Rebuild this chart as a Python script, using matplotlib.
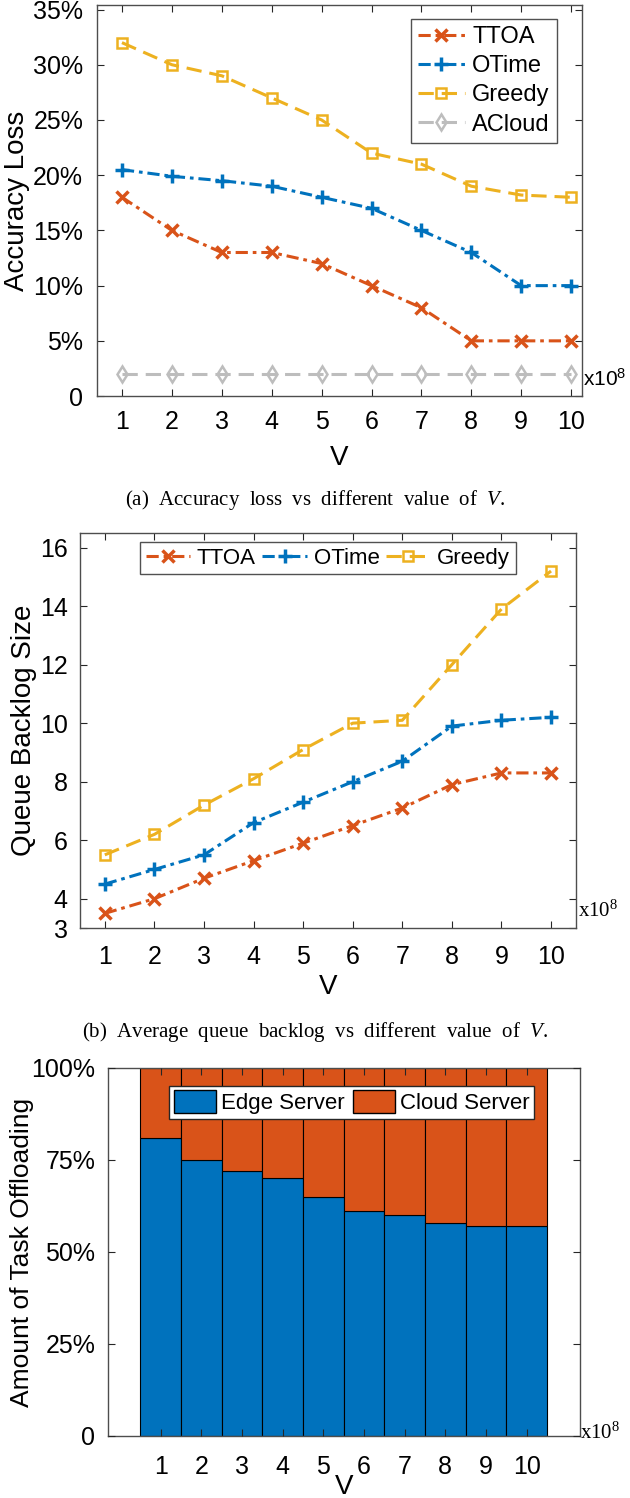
import numpy as np
import matplotlib
matplotlib.use('Agg')
import matplotlib.pyplot as plt
from matplotlib.patches import Patch

plt.rcParams['font.family'] = ['Liberation Sans', 'DejaVu Sans']
plt.rcParams['mathtext.fontset'] = 'custom'
plt.rcParams['mathtext.rm'] = 'Liberation Serif'
plt.rcParams['mathtext.it'] = 'Liberation Serif:italic'

V = [1, 2, 3, 4, 5, 6, 7, 8, 9, 10]

# (a) accuracy loss, in percent
acc_ttoa = [18, 15, 13, 13, 12, 10, 8, 5, 5, 5]
acc_otime = [20.5, 19.9, 19.5, 19, 18, 17, 15, 13, 10, 10]
acc_greedy = [32, 30, 29, 27, 25, 22, 21, 19, 18.2, 18]
acc_acloud = [2, 2, 2, 2, 2, 2, 2, 2, 2, 2]

# (b) queue backlog size
q_ttoa = [3.5, 4.0, 4.7, 5.3, 5.9, 6.5, 7.1, 7.9, 8.3, 8.3]
q_otime = [4.5, 5.0, 5.5, 6.6, 7.3, 8.0, 8.7, 9.9, 10.1, 10.2]
q_greedy = [5.5, 6.2, 7.2, 8.1, 9.1, 10.0, 10.1, 12.0, 13.9, 15.2]

# (c) share of tasks offloaded, in percent
edge = [81, 75, 72, 70, 65, 61, 60, 58, 57, 57]
cloud = [100 - e for e in edge]

c_red = '#D95319'
c_blue = '#0072BD'
c_yel = '#EDB120'
c_gray = '#BDBDBD'
frame = '#262626'

dashdot = (4, 1.6, 1.2, 1.6)
dashed = (5, 2.6)


def style(ax, pad=9):
    ax.tick_params(direction='in', top=True, right=True, length=5,
                   width=0.8, color=frame, labelsize=18, pad=pad)
    for s in ax.spines.values():
        s.set_color('#4d4d4d')
        s.set_linewidth(1.0)


fig = plt.figure(figsize=(6.3, 14.98), dpi=100)

# ---------- (a)
ax1 = fig.add_axes([0.154, 0.7356, 0.770, 0.2610])
ax1.plot(V, acc_ttoa, color=c_red, lw=2.2, dashes=dashdot, marker='x',
         ms=9, mew=2.5, label='TTOA')
ax1.plot(V, acc_otime, color=c_blue, lw=2.2, dashes=dashdot, marker='+',
         ms=10, mew=2.5, label='OTime')
ax1.plot(V, acc_greedy, color=c_yel, lw=2.2, dashes=dashed, marker='s',
         ms=7, mew=1.8, mfc='none', label='Greedy')
ax1.plot(V, acc_acloud, color=c_gray, lw=2.2, dashes=dashed, marker='d',
         ms=8, mew=1.8, mfc='none', label='ACloud')
ax1.set_xlim(0.5, 10.22)
ax1.set_ylim(0, 35.4)
ax1.set_xticks(V)
ax1.set_yticks(range(0, 36, 5))
ax1.set_yticklabels(['0'] + [f'{v}%' for v in range(5, 36, 5)])
style(ax1, pad=10)
ax1.set_xlabel('V', fontsize=20, labelpad=8)
ax1.set_ylabel('Accuracy Loss', fontsize=20, labelpad=2)
ax1.legend(loc='upper right', bbox_to_anchor=(0.948, 0.964), fontsize=17,
           frameon=True, fancybox=False, edgecolor=frame, handlelength=2.0,
           handletextpad=0.3, borderpad=0.3, labelspacing=0.3,
           borderaxespad=0)
ax1.text(1.002, 0.015, 'x10$\\mathregular{^8}$', transform=ax1.transAxes,
         fontsize=15, ha='left', va='bottom')
fig.text(0.5, 1 - 500 / 1498,
         r'(a)  Accuracy  loss  vs  different  value  of  $V$.',
         family='Liberation Serif', fontsize=15, ha='center', va='center')

# ---------- (b)
ax2 = fig.add_axes([0.127, 0.3805, 0.787, 0.2637])
ax2.plot(V, q_ttoa, color=c_red, lw=2.2, dashes=dashdot, marker='x',
         ms=9, mew=2.5, label='TTOA')
ax2.plot(V, q_otime, color=c_blue, lw=2.2, dashes=dashdot, marker='+',
         ms=10, mew=2.5, label='OTime')
ax2.plot(V, q_greedy, color=c_yel, lw=2.2, dashes=dashed, marker='s',
         ms=7, mew=1.8, mfc='none', label='Greedy')
ax2.set_xlim(0.5, 10.5)
ax2.set_ylim(3, 16.5)
ax2.set_xticks(V)
ax2.set_yticks([3, 4, 6, 8, 10, 12, 14, 16])
style(ax2, pad=12)
ax2.tick_params(axis='y', pad=9)
ax2.set_xlabel('V', fontsize=20, labelpad=4)
ax2.set_ylabel('Queue Backlog Size', fontsize=20, labelpad=2)
ax2.legend(loc='upper center', bbox_to_anchor=(0.5, 0.977), ncol=3,
           fontsize=16, frameon=True, fancybox=False, edgecolor=frame,
           handlelength=2.0, handletextpad=0.3, columnspacing=0.3,
           borderpad=0.25, borderaxespad=0)
ax2.text(1.004, 0.015, r'x10$^8$', transform=ax2.transAxes, fontsize=15,
         family='Liberation Serif', ha='left', va='bottom')
fig.text(0.5, 1 - 1032 / 1498,
         r'(b)  Average  queue  backlog  vs  different  value  of  $V$.',
         family='Liberation Serif', fontsize=15, ha='center', va='center')

# ---------- (c)
ax3 = fig.add_axes([0.171, 0.0414, 0.749, 0.2457])
ax3.bar(V, edge, width=1.0, color=c_blue, edgecolor='black', lw=0.8)
ax3.bar(V, cloud, width=1.0, bottom=edge, color=c_red, edgecolor='black',
        lw=0.8)
ax3.set_xlim(-0.3, 11.3)
ax3.set_ylim(0, 100)
ax3.set_xticks(V)
ax3.set_yticks([0, 25, 50, 75, 100])
ax3.set_yticklabels(['0', '25%', '50%', '75%', '100%'])
style(ax3, pad=14)
ax3.tick_params(axis='y', pad=9)
ax3.set_axisbelow(False)
ax3.set_xlabel('V', fontsize=20, labelpad=-4)
ax3.set_ylabel('Amount of Task Offloading', fontsize=19, labelpad=-2)
handles = [Patch(facecolor=c_blue, edgecolor='black', label='Edge Server'),
           Patch(facecolor=c_red, edgecolor='black', label='Cloud Server')]
ax3.legend(handles=handles, loc='upper right', bbox_to_anchor=(0.903, 0.951),
           ncol=2, fontsize=16, frameon=True, fancybox=False,
           edgecolor=frame, framealpha=1, handlelength=1.9, handleheight=1.2,
           handletextpad=0.2, columnspacing=0.4, borderpad=0.2,
           borderaxespad=0)
ax3.text(1.0, -0.02, r'x10$^8$', transform=ax3.transAxes, fontsize=15,
         family='Liberation Serif', ha='left', va='bottom')

fig.savefig('out.png', dpi=100)
